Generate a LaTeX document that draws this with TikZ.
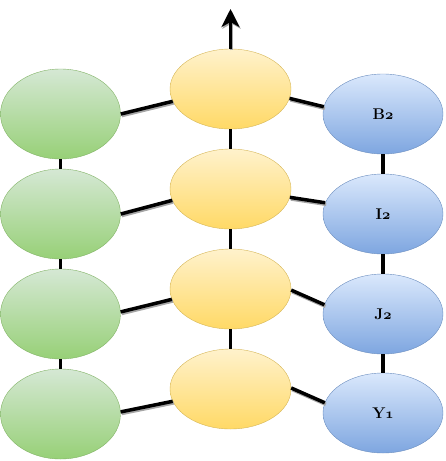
\documentclass[tikz,border=0pt]{standalone}
\usepackage{fontspec}
\usetikzlibrary{shapes.geometric,arrows.meta}
\newcommand{\osn}[1]{{\usefont{OML}{cmm}{b}{it}#1}}
\definecolor{gtop}{HTML}{D5E8D4}\definecolor{gbot}{HTML}{97D077}\definecolor{gdraw}{HTML}{82B366}
\definecolor{ytop}{HTML}{FFF2CC}\definecolor{ybot}{HTML}{FFD966}\definecolor{ydraw}{HTML}{D6B656}
\definecolor{btop}{HTML}{DAE8FC}\definecolor{bbot}{HTML}{7EA6E0}\definecolor{bdraw}{HTML}{6C8EBF}
\tikzset{
  greennode/.style={ellipse, draw=gdraw, top color=gtop, bottom color=gbot, minimum width=120pt, minimum height=90pt, inner sep=0pt},
  yellownode/.style={ellipse, draw=ydraw, top color=ytop, bottom color=ybot, minimum width=121pt, minimum height=80pt, inner sep=0pt},
  bluenode/.style={ellipse, draw=bdraw, top color=btop, bottom color=bbot, minimum width=120pt, minimum height=80pt, inner sep=0pt, font=\fontsize{15.5}{18}\selectfont\bfseries},
  vline/.style={line width=3.5pt, black},
  conn/.style={line width=3.5pt, black, preaction={draw=black!35, line width=3.5pt, transform canvas={shift={(1pt,-1.6pt)}}}},
}
\begin{document}
\begin{tikzpicture}[x=1pt,y=-1pt]
\useasboundingbox (0,0) rectangle (445,461);
% green column
\node[greennode] (g1) at (60.5,114) {};
\node[greennode] (g2) at (60.5,214) {};
\node[greennode] (g3) at (60.5,314) {};
\node[greennode] (g4) at (60.5,414) {};
% yellow column
\node[yellownode] (y1) at (230.5,89) {};
\node[yellownode] (y2) at (230.5,189) {};
\node[yellownode] (y3) at (230.5,289) {};
\node[yellownode] (y4) at (230.5,389) {};
% blue column
\node[bluenode] (b1) at (383,114) {B\osn{2}};
\node[bluenode] (b2) at (383,214) {I\osn{2}};
\node[bluenode] (b3) at (383,314) {J\osn{2}};
\node[bluenode] (b4) at (383,413) {Y\osn{1}};
\coordinate (top) at (230.5,9);
% vertical links
\draw[vline] (g1.south) -- (g2.north);
\draw[vline] (g2.south) -- (g3.north);
\draw[vline] (g3.south) -- (g4.north);
\draw[vline] (y1.south) -- (y2.north);
\draw[vline] (y2.south) -- (y3.north);
\draw[vline] (y3.south) -- (y4.north);
\draw[vline] (b1.south) -- (b2.north);
\draw[vline] (b2.south) -- (b3.north);
\draw[vline] (b3.south) -- (b4.north);
% arrow
\draw[conn, -{Stealth[width=18pt,length=18pt,inset=5pt]}] (y1.north) -- (top);
% diagonal links
\draw[conn] (g1.east) -- (y1.192);
\draw[conn] (y1.351) -- (b1.173);
\draw[conn] (g2.east) -- (y2.191);
\draw[conn] (y2.352) -- (b2.169);
\draw[conn] (g3.2) -- (y3.190);
\draw[conn] (y3.359) -- (b3.171);
\draw[conn] (g4.2) -- (y4.192);
\draw[conn] (y4.1) -- (b4.170);
\end{tikzpicture}
\end{document}
